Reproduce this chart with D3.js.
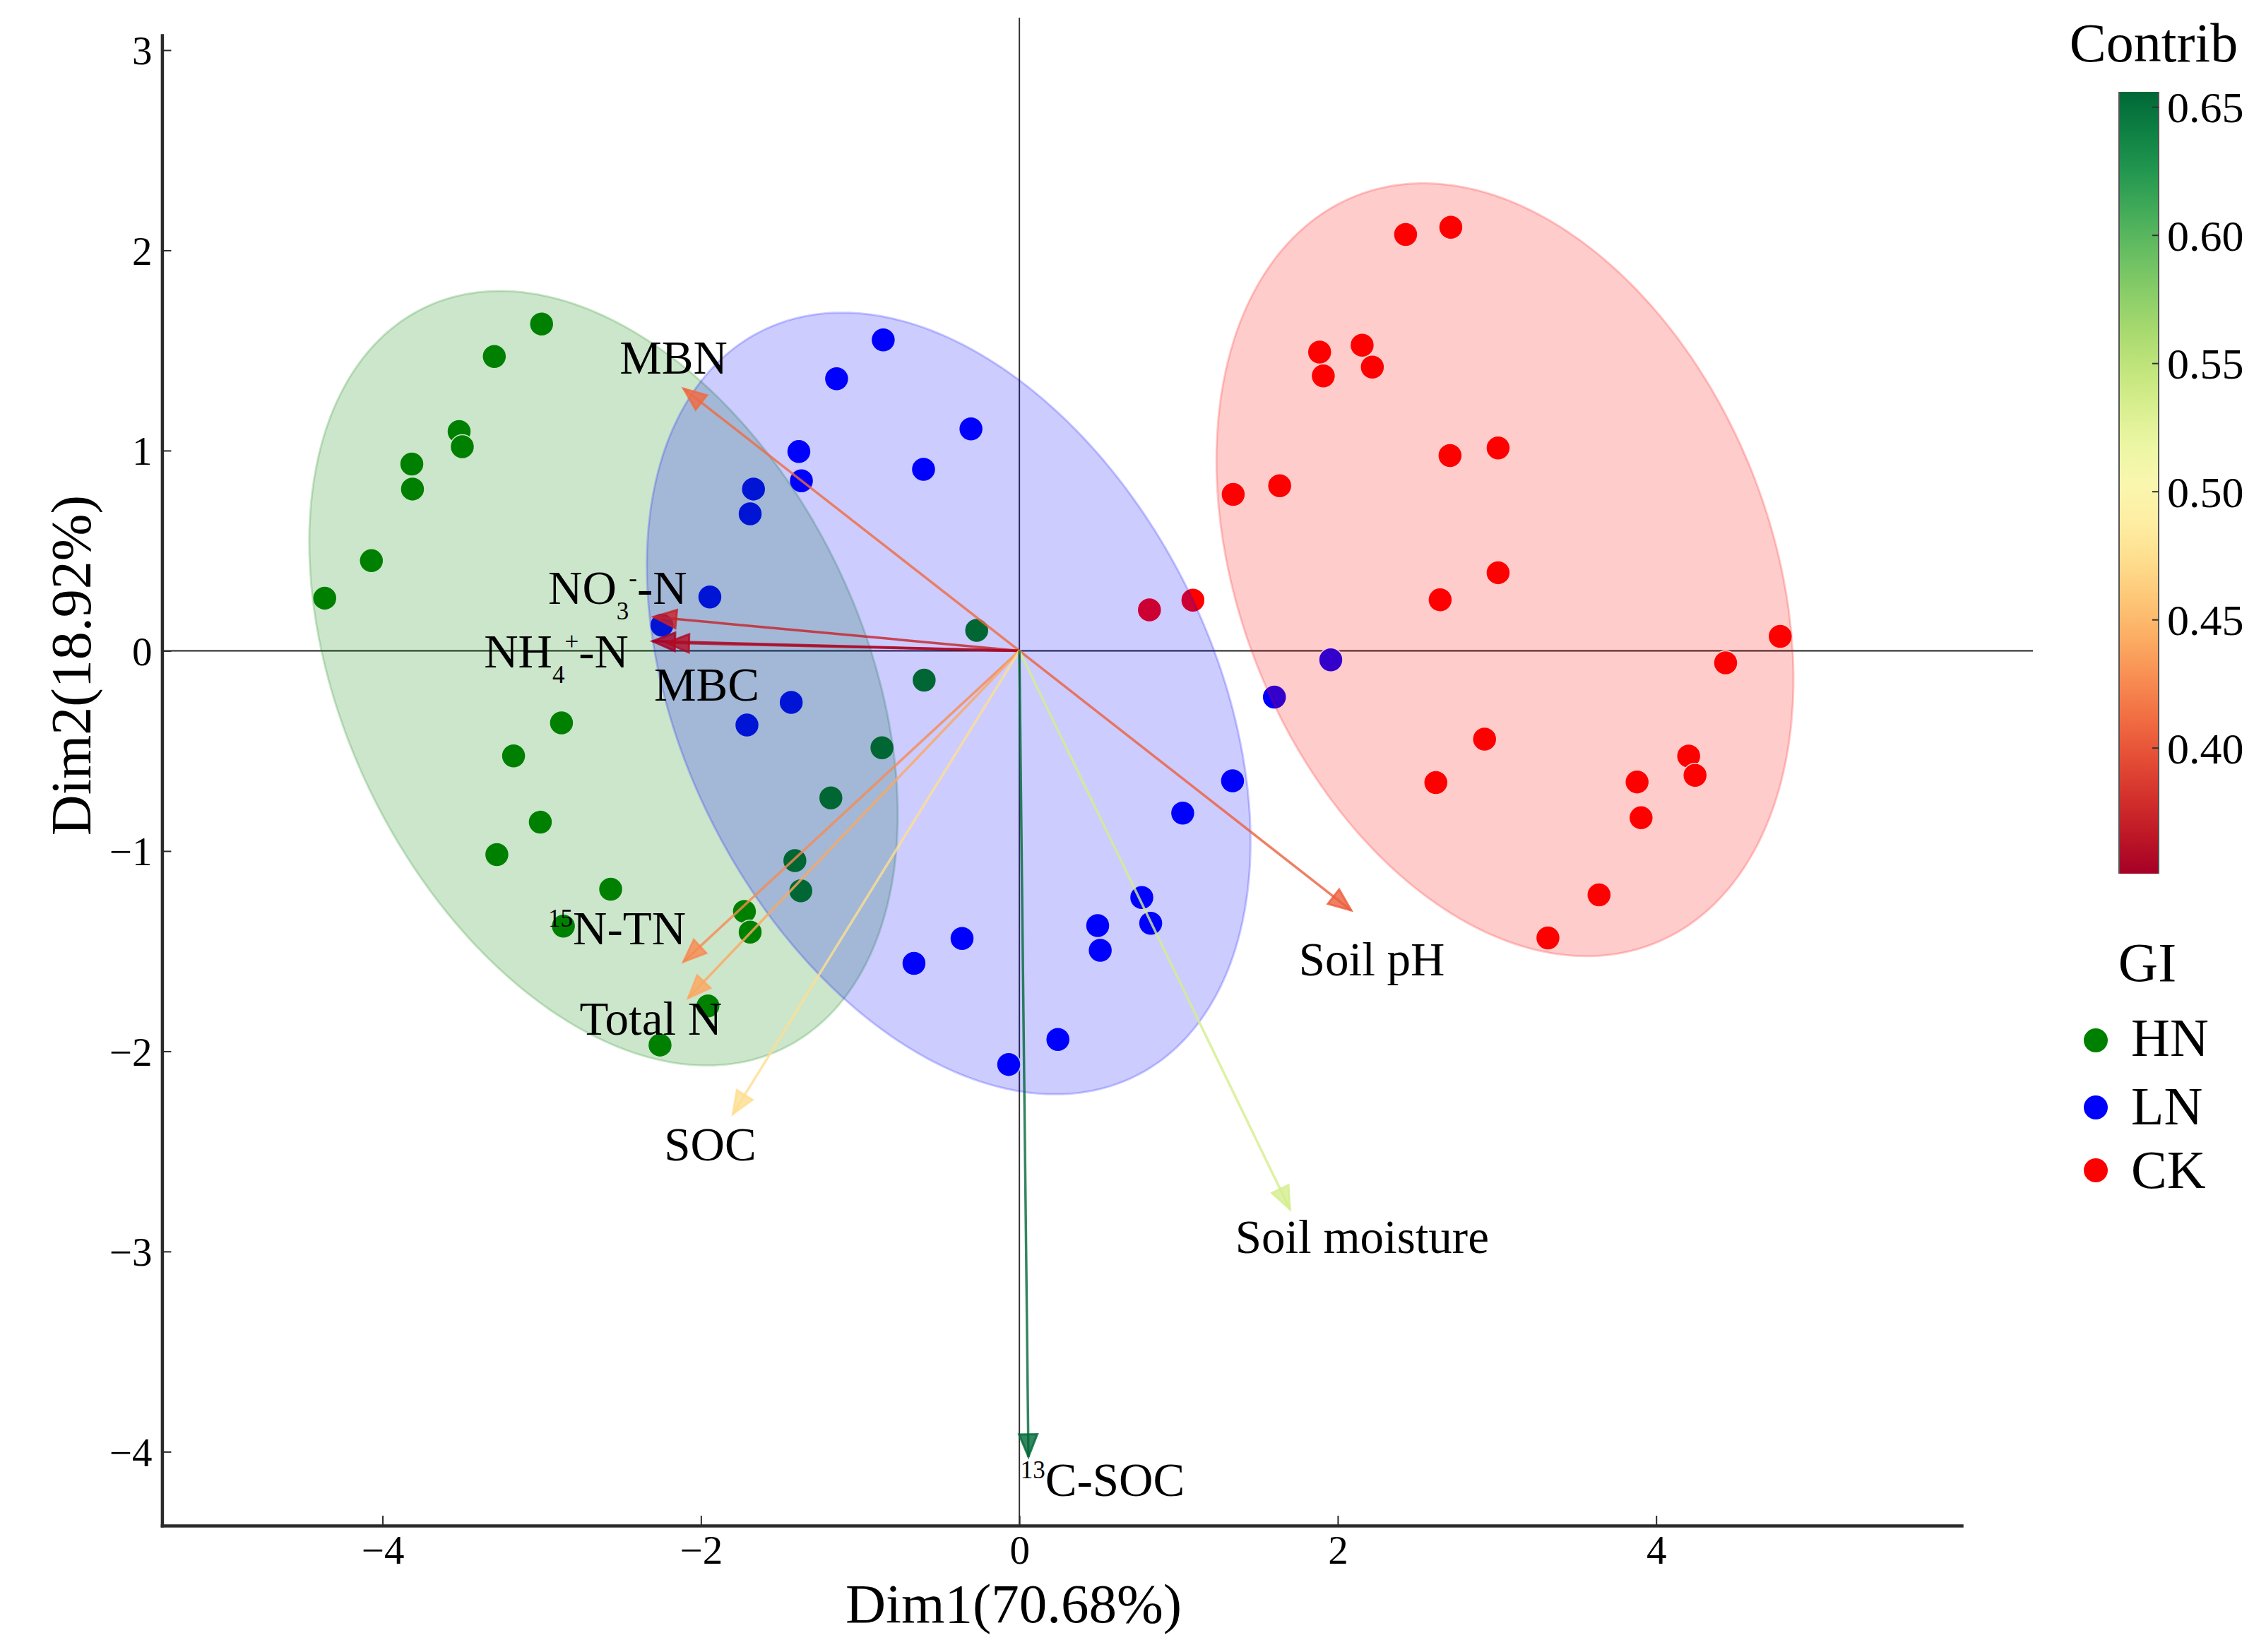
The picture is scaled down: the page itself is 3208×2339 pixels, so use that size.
<!DOCTYPE html>
<html><head><meta charset="utf-8">
<script src="https://cdn.jsdelivr.net/npm/d3@7"></script>
<style>
body{margin:0;background:#fff}
svg{display:block}
text{font-family:"Liberation Serif","Times New Roman",serif;fill:#000}
</style>
</head><body>
<svg id="chart" width="3208" height="2339"></svg>
<script>
// ---------------- DATA ----------------
const groups = ["HN", "LN", "CK"];
const groupColors = ["#008000", "#0000FF", "#FF0000"];

const hnX = [-3.001,-3.298,-3.519,-3.499,-3.816,-3.812,-4.070,-4.363,-2.876,-3.177,-3.009,-3.282,-2.567,-2.864,-1.727,-1.691,-1.956,-2.257,-0.268,-0.598,-0.863,-1.184,-1.410,-1.373];
const hnY = [1.632,1.470,1.095,1.019,0.933,0.808,0.450,0.263,-0.360,-0.525,-0.856,-1.018,-1.191,-1.375,-1.302,-1.405,-1.774,-1.969,0.102,-0.147,-0.484,-0.735,-1.048,-1.199];

const lnX = [-0.855,-1.148,-0.304,-0.602,-1.385,-1.369,-1.670,-1.691,-1.944,-2.245,-1.433,-1.711,1.339,1.026,0.769,0.825,0.492,0.508,-0.360,-0.662,0.242,-0.067,1.956,1.602];
const lnY = [1.553,1.359,1.108,0.906,0.995,0.849,0.808,0.684,0.269,0.128,-0.258,-0.371,-0.649,-0.811,-1.232,-1.361,-1.372,-1.496,-1.437,-1.561,-1.941,-2.066,-0.045,-0.231];

const ckX = [2.426,2.710,1.886,2.153,1.909,2.217,2.705,3.007,1.343,1.635,2.643,3.007,4.779,4.436,2.922,2.616,4.204,4.244,3.880,3.905,3.641,3.320,1.090,0.817];
const ckY = [2.079,2.115,1.492,1.526,1.373,1.417,0.975,1.013,0.781,0.824,0.255,0.390,0.072,-0.060,-0.441,-0.658,-0.526,-0.622,-0.655,-0.834,-1.219,-1.434,0.253,0.204];

// confidence ellipses (centre, half-extent in x / y, correlation), in data units
const ellipseCx = [-2.612, -0.444, 3.050];
const ellipseCy = [-0.137, -0.263, 0.405];
const ellipseSx = [1.848, 1.896, 1.812];
const ellipseSy = [1.934, 1.952, 1.930];
const ellipseR  = [-0.352, -0.353, -0.283];

// variable arrows
const varNames   = ["MBN","NO3-N","NH4+-N","MBC","15N-TN","Total N","SOC","Soil pH","Soil moisture","13C-SOC"];
const varX       = [-2.110,-2.297,-2.305,-2.217,-2.110,-2.080,-1.800, 2.085, 1.700, 0.057];
const varY       = [ 1.310, 0.169, 0.048, 0.040,-1.553,-1.734,-2.314,-1.297,-2.790,-4.026];
const varContrib = [ 0.410, 0.372, 0.351, 0.358, 0.425, 0.440, 0.475, 0.405, 0.535, 0.656];

const xTicks = [-4, -2, 0, 2, 4];
const yTicks = [-4, -3, -2, -1, 0, 1, 2, 3];
const contribTicks = [0.40, 0.45, 0.50, 0.55, 0.60, 0.65];

const xTitle = "Dim1(70.68%)";
const yTitle = "Dim2(18.92%)";
const colorTitle = "Contrib";
const legendTitle = "GI";

// label rich-text segments and placement (pixels relative to arrow tip)
const labelSegments = [
  [["MBN","n"]],
  [["NO","n"],["3","sub"],["-","sup"],["-N","n"]],
  [["NH","n"],["4","sub"],["+","sup"],["-N","n"]],
  [["MBC","n"]],
  [["15","sup"],["N-TN","n"]],
  [["Total N","n"]],
  [["SOC","n"]],
  [["Soil pH","n"]],
  [["Soil moisture","n"]],
  [["13","sup"],["C-SOC","n"]]
];
const labelDx = [-14, -51, -136, 57, -94, -53, -32, 29, 102, 105];
const labelDy = [-21, -19, 37, 82, -25, 52, 66, 92, 62, 55];

// ---------------- DRAW ----------------
const svg = d3.select("#chart");
svg.append("rect").attr("width",3208).attr("height",2339).attr("fill","#fff");

const x = d3.scaleLinear().domain([-5.385, 5.918]).range([229.4, 2777]);
const y = d3.scaleLinear().domain([-4.369, 3.074]).range([2160, 50]);

// zero reference lines
svg.append("line").attr("x1", 229).attr("x2", 2878).attr("y1", y(0)).attr("y2", y(0))
  .attr("stroke", "#222").attr("stroke-width", 2);
svg.append("line").attr("x1", x(0)).attr("x2", x(0)).attr("y1", 25).attr("y2", y.range()[0])
  .attr("stroke", "#333").attr("stroke-width", 2);

// points
const groupX = [hnX, lnX, ckX], groupY = [hnY, lnY, ckY];
const pts = [];
groups.forEach((g, gi) => groupX[gi].forEach((v, i) => pts.push({g: gi, x: v, y: groupY[gi][i]})));
svg.append("g").selectAll("circle").data(pts).join("circle")
  .attr("cx", d => x(d.x)).attr("cy", d => y(d.y)).attr("r", 17)
  .attr("fill", d => groupColors[d.g]).attr("stroke", "#fff").attr("stroke-width", 1.5);

// ellipses
const ellLine = d3.line().x(d => x(d[0])).y(d => y(d[1])).curve(d3.curveLinearClosed);
const ellG = svg.append("g");
groups.forEach((g, gi) => {
  const cx = ellipseCx[gi], cy = ellipseCy[gi], sx = ellipseSx[gi], sy = ellipseSy[gi], r = ellipseR[gi];
  const poly = d3.range(0, 360, 1).map(deg => {
    const t = deg * Math.PI / 180;
    return [cx + sx * Math.cos(t), cy + r * sy * Math.cos(t) + sy * Math.sqrt(1 - r * r) * Math.sin(t)];
  });
  ellG.append("path").attr("d", ellLine(poly))
    .attr("fill", groupColors[gi]).attr("fill-opacity", 0.2)
    .attr("stroke", groupColors[gi]).attr("stroke-opacity", 0.2).attr("stroke-width", 3);
});

// colour scale for contrib
const cExtent = d3.extent(varContrib);
const cNorm = d3.scaleLinear().domain(cExtent).range([0, 1]);
const cColor = v => d3.interpolateRdYlGn(cNorm(v));

// arrows
const arrG = svg.append("g");
varNames.forEach((n, i) => {
  const x0 = x(0), y0 = y(0), x1 = x(varX[i]), y1 = y(varY[i]);
  const col = cColor(varContrib[i]);
  arrG.append("line").attr("x1", x0).attr("y1", y0).attr("x2", x1).attr("y2", y1)
    .attr("stroke", col).attr("stroke-opacity", 0.8).attr("stroke-width", 3.5);
  const a = Math.atan2(y1 - y0, x1 - x0), L = 32, W = 13;
  const bx = x1 - L * Math.cos(a), by = y1 - L * Math.sin(a);
  const px = -Math.sin(a) * W, py = Math.cos(a) * W;
  arrG.append("path").attr("d", `M${x1},${y1}L${bx + px},${by + py}L${bx - px},${by - py}Z`)
    .attr("fill", col).attr("fill-opacity", 0.8)
    .attr("stroke", col).attr("stroke-opacity", 0.8).attr("stroke-width", 3).attr("stroke-linejoin", "miter");
});

// variable labels
const labG = svg.append("g");
varNames.forEach((n, i) => {
  const t = labG.append("text").attr("x", x(varX[i]) + labelDx[i]).attr("y", y(varY[i]) + labelDy[i])
    .attr("text-anchor", "middle").attr("font-size", 67);
  let cur = 0;
  labelSegments[i].forEach(([s, k]) => {
    const target = k === "sub" ? 22 : (k === "sup" ? -25 : 0);
    t.append("tspan").attr("dy", target - cur).attr("font-size", k === "n" ? 67 : 35).text(s);
    cur = target;
  });
});

// axes
const fmt = d => (d < 0 ? "\u2212" : "") + Math.abs(d);
const xAxis = svg.append("g").attr("transform", `translate(0,${y.range()[0]})`)
  .call(d3.axisBottom(x).tickValues(xTicks).tickFormat(fmt).tickSizeInner(-14).tickSizeOuter(0).tickPadding(0));
const yAxis = svg.append("g").attr("transform", `translate(${x.range()[0]},0)`)
  .call(d3.axisLeft(y).tickValues(yTicks).tickFormat(fmt).tickSizeInner(-13).tickSizeOuter(0).tickPadding(0));
[xAxis, yAxis].forEach(ax => {
  ax.attr("font-family", null);
  ax.select(".domain").attr("stroke", "#2b2b2b").attr("stroke-width", 4.5).attr("stroke-linecap", "square");
  ax.selectAll(".tick line").attr("stroke", "#2b2b2b").attr("stroke-width", 2);
  ax.selectAll(".tick text").attr("font-size", 57).attr("fill", "#000");
});
xAxis.selectAll(".tick text").attr("y", 54).attr("dy", 0);
yAxis.selectAll(".tick text").attr("x", -14).attr("dy", "0.35em");

// axis titles
svg.append("text").attr("x", 1435).attr("y", 2297).attr("text-anchor", "middle").attr("font-size", 79).text(xTitle);
svg.append("text").attr("transform", "translate(128,942) rotate(-90)").attr("text-anchor", "middle")
  .attr("font-size", 80).text(yTitle);

// colour bar
const cb = d3.scaleLinear().domain(cExtent).range([1237, 130]);
const defs = svg.append("defs");
const grad = defs.append("linearGradient").attr("id", "cgrad").attr("x1", 0).attr("y1", 1).attr("x2", 0).attr("y2", 0);
d3.range(0, 1.0001, 0.05).forEach(t => grad.append("stop").attr("offset", t).attr("stop-color", d3.interpolateRdYlGn(t)));
svg.append("rect").attr("x", 3000).attr("y", cb.range()[1]).attr("width", 56).attr("height", cb.range()[0] - cb.range()[1])
  .attr("fill", "url(#cgrad)");
svg.append("line").attr("x1", 3000).attr("x2", 3000).attr("y1", 130).attr("y2", 1237).attr("stroke", "#555").attr("stroke-width", 2);
svg.append("line").attr("x1", 3056).attr("x2", 3056).attr("y1", 130).attr("y2", 1237).attr("stroke", "#555").attr("stroke-width", 2);
const cbT = svg.append("g");
contribTicks.forEach(v => {
  cbT.append("line").attr("x1", 3047).attr("x2", 3056).attr("y1", cb(v)).attr("y2", cb(v)).attr("stroke", "#333").attr("stroke-width", 2);
  cbT.append("text").attr("x", 3068).attr("y", cb(v)).attr("dy", "0.35em").attr("font-size", 62).text(v.toFixed(2));
});
svg.append("text").attr("x", 3049).attr("y", 87).attr("text-anchor", "middle").attr("font-size", 78).text(colorTitle);

// group legend
svg.append("text").attr("x", 3040).attr("y", 1389).attr("text-anchor", "middle").attr("font-size", 78).text(legendTitle);
const legY = [1473, 1568, 1657];
const legBase = [1495, 1592, 1682];
groups.forEach((g, gi) => {
  svg.append("circle").attr("cx", 2967).attr("cy", legY[gi]).attr("r", 17).attr("fill", groupColors[gi]);
  svg.append("text").attr("x", 3017).attr("y", legBase[gi]).attr("font-size", 76).text(g);
});
</script>
</body></html>
